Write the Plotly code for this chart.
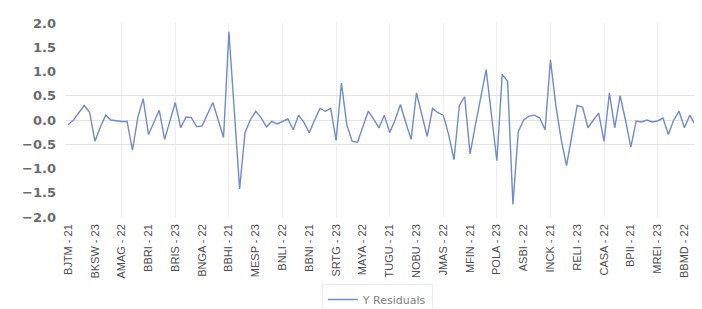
import plotly.graph_objects as go

residuals = [
    -0.10, 0.00, 0.15, 0.30, 0.16, -0.44, -0.15, 0.10, 0.00, -0.02,
    -0.03, -0.03, -0.62, 0.05, 0.44, -0.30, -0.05, 0.20, -0.40, -0.02,
    0.36, -0.16, 0.06, 0.05, -0.14, -0.12, 0.12, 0.36, 0.00, -0.36,
    1.82, 0.20, -1.42, -0.26, 0.00, 0.18, 0.05, -0.14, -0.03, -0.08,
    -0.03, 0.02, -0.20, 0.10, -0.05, -0.26, 0.00, 0.24, 0.18, 0.24,
    -0.42, 0.76, -0.10, -0.44, -0.46, -0.15, 0.18, 0.02, -0.16, 0.10,
    -0.26, 0.00, 0.32, -0.05, -0.40, 0.56, 0.10, -0.34, 0.24, 0.15,
    0.10, -0.30, -0.82, 0.30, 0.48, -0.70, -0.10, 0.45, 1.04, 0.10,
    -0.84, 0.94, 0.80, -1.74, -0.24, 0.00, 0.08, 0.10, 0.04, -0.20,
    1.24, 0.30, -0.40, -0.94, -0.30, 0.30, 0.26, -0.16, 0.00, 0.14,
    -0.44, 0.56, -0.16, 0.50, 0.00, -0.56, -0.02, -0.04, 0.00, -0.04,
    -0.02, 0.04, -0.30, 0.00, 0.18, -0.16, 0.10, -0.10, -0.34, 0.30,
]
obs_index = list(range(len(residuals)))

# Tick labels shown on the x axis (every fifth observation)
tick_labels = [
    "BJTM - 21", "BKSW - 23", "AMAG - 22", "BBRI - 21", "BRIS - 23", "BNGA - 22",
    "BBHI - 21", "MESP - 23", "BNLI - 22", "BBNI - 21", "SRTG - 23", "MAYA - 22",
    "TUGU - 21", "NOBU - 23", "JMAS - 22", "MFIN - 21", "POLA - 23", "ASBI - 22",
    "INCK - 21", "RELI - 23", "CASA - 22", "BPII - 21", "MREI - 23", "BBMD - 22",
]
tick_positions = [i * 5 for i in range(len(tick_labels))]
grid_positions = list(range(10, 120, 10))
y_ticks = [-2.0, -1.5, -1.0, -0.5, 0.0, 0.5, 1.0, 1.5, 2.0]
y_grid = [-0.5, 0.0, 0.5]

fig = go.Figure()
fig.add_trace(go.Scatter(
    x=obs_index, y=residuals, mode="lines", name="Y Residuals",
    line=dict(color="#6f8bcb", width=1.4),
))

fig.update_layout(
    width=702, height=309,
    margin=dict(l=58, r=2, t=15, b=94),
    paper_bgcolor="white", plot_bgcolor="white",
    showlegend=True,
    legend=dict(
        orientation="h", x=0.485, xanchor="center", y=-0.425, yanchor="middle",
        font=dict(family="DejaVu Sans, sans-serif", size=11, color="#7f7f7f"),
        bordercolor="#ececec", borderwidth=1,
    ),
)
fig.update_xaxes(
    range=[-0.4, 119.4],
    tickmode="array", tickvals=tick_positions, ticktext=tick_labels,
    tickangle=-90, ticks="", ticklabelstandoff=4,
    tickfont=dict(family="Liberation Sans Narrow, Arial Narrow, sans-serif", size=11, color="#4d4d4d"),
    showgrid=False, zeroline=False, showline=False,
    minor=dict(tickmode="array", tickvals=grid_positions, showgrid=True,
               gridcolor="#eeeeee", gridwidth=1, ticks=""),
)
fig.update_yaxes(
    range=[-2.0, 2.0],
    tickmode="array", tickvals=y_ticks, tickformat=".1f",
    ticks="", ticklabelstandoff=9,
    tickfont=dict(family="DejaVu Sans, sans-serif", size=13, color="#6b6b6b", weight="bold"),
    showgrid=False, zeroline=False, showline=False,
    minor=dict(tickmode="array", tickvals=y_grid, showgrid=True,
               gridcolor="#e3e3e3", gridwidth=1, ticks=""),
)

fig.write_html("out.html")
